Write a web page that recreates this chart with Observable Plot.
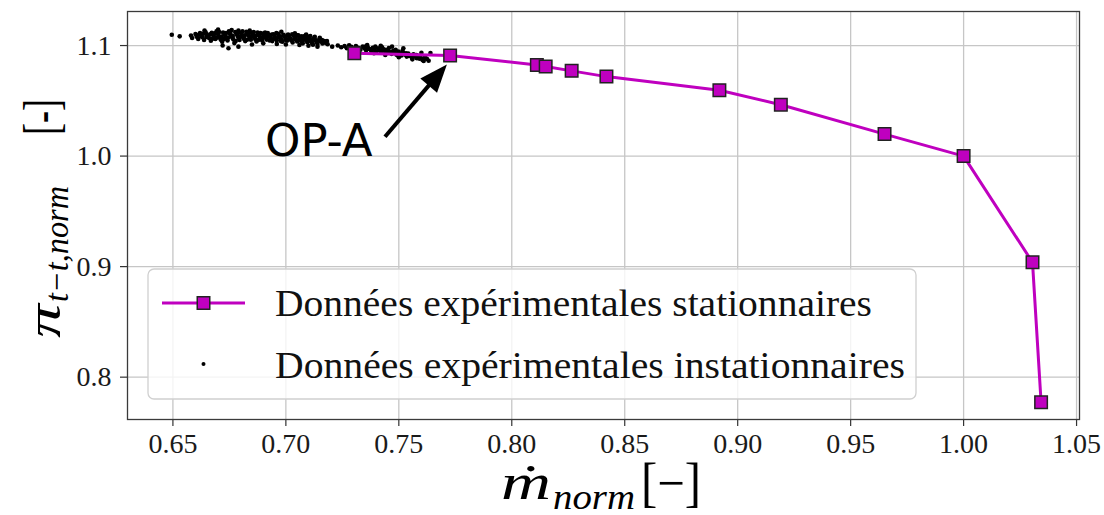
<!DOCTYPE html>
<html><head><meta charset="utf-8">
<script src="https://cdn.jsdelivr.net/npm/d3@7"></script>
<script src="https://cdn.jsdelivr.net/npm/@observablehq/plot@0.6"></script>
<style>body{margin:0;background:#fff}#chart svg{display:block}</style>
</head><body><div id="chart"></div>
<script>
const xTicks = [0.65, 0.70, 0.75, 0.80, 0.85, 0.90, 0.95, 1.00, 1.05];
const yTicks = [0.8, 0.9, 1.0, 1.1];
const steadyX = [0.7303, 0.7727, 0.8111, 0.8150, 0.8265, 0.8419, 0.8919, 0.9191, 0.9650, 1.0000, 1.0305, 1.0343];
const steadyY = [1.0931, 1.0909, 1.0825, 1.0810, 1.0771, 1.0719, 1.0596, 1.0465, 1.0199, 1.0000, 0.9039, 0.7772];
const unsteady = [
[0.6495,1.1098],[0.6530,1.1083],[0.6580,1.1090],[0.6585,1.1068],[0.6600,1.1105],[0.6605,1.1080],[0.6612,1.1060],
[0.6620,1.1112],[0.6625,1.1092],[0.6630,1.1075],[0.6638,1.1050],[0.6645,1.1120],[0.6650,1.1100],[0.6655,1.1085],
[0.6660,1.1068],[0.6668,1.1043],[0.6672,1.1115],[0.6678,1.1095],[0.6682,1.1078],[0.6688,1.1060],[0.6693,1.1128],
[0.6698,1.1108],[0.6702,1.1088],[0.6708,1.1070],[0.6712,1.1052],[0.6718,1.1035],[0.6722,1.1118],[0.6728,1.1100],
[0.6733,1.1082],[0.6738,1.1064],[0.6742,1.1046],[0.6748,1.1130],[0.6752,1.1110],[0.6757,1.1092],[0.6762,1.1074],
[0.6767,1.1056],[0.6772,1.1022],[0.6776,1.1122],[0.6781,1.1104],[0.6786,1.1086],[0.6790,1.1068],[0.6795,1.1050],
[0.6800,1.1115],[0.6805,1.1096],[0.6810,1.1078],[0.6815,1.1060],[0.6820,1.1040],[0.6825,1.1125],[0.6830,1.1106],
[0.6835,1.1088],[0.6840,1.1070],[0.6845,1.1052],[0.6850,1.1112],[0.6855,1.1094],[0.6860,1.1076],[0.6865,1.1058],
[0.6870,1.1036],[0.6875,1.1118],[0.6880,1.1100],[0.6885,1.1082],[0.6890,1.1064],[0.6895,1.1046],[0.6900,1.1108],
[0.6905,1.1090],[0.6910,1.1072],[0.6915,1.1054],[0.6920,1.1112],[0.6925,1.1094],[0.6930,1.1076],[0.6935,1.1058],
[0.6940,1.1040],[0.6945,1.1102],[0.6950,1.1084],[0.6955,1.1066],[0.6960,1.1048],[0.6965,1.1106],[0.6970,1.1088],
[0.6975,1.1070],[0.6980,1.1052],[0.6985,1.1034],[0.6990,1.1098],[0.6995,1.1080],[0.7000,1.1062],[0.7005,1.1044],
[0.7010,1.1100],[0.7015,1.1082],[0.7020,1.1064],[0.7025,1.1046],[0.7030,1.1028],[0.7035,1.1090],[0.7040,1.1072],
[0.7045,1.1054],[0.7050,1.1036],[0.7055,1.1092],[0.7060,1.1074],[0.7065,1.1056],[0.7070,1.1038],[0.7075,1.1020],
[0.7080,1.1084],[0.7085,1.1066],[0.7090,1.1048],[0.7095,1.1030],[0.7100,1.1078],[0.7105,1.1060],[0.7110,1.1042],
[0.7115,1.1024],[0.7120,1.1008],[0.7125,1.1068],[0.7130,1.1050],[0.7135,1.1032],[0.7140,1.1014],[0.7148,1.1055],
[0.7155,1.1036],[0.7162,1.1018],[0.7170,1.1040],[0.7178,1.1022],[0.7185,1.1012],
[0.6640,1.1135],[0.6700,1.1145],[0.6760,1.1140],[0.6790,1.1136],[0.6840,1.1135],[0.6720,1.1000],[0.6746,1.0976],
[0.6790,1.0990],[0.6850,1.1010],[0.6900,1.1020],[0.6960,1.1015],[0.7000,1.1010],[0.7060,1.1005],[0.7100,1.0998],
[0.7140,1.0990],[0.6980,1.1125],[0.7040,1.1110],[0.7090,1.1100],
[0.6615,1.1098],[0.6635,1.1108],[0.6648,1.1078],[0.6665,1.1102],[0.6675,1.1062],[0.6685,1.1110],[0.6695,1.1072],
[0.6705,1.1122],[0.6715,1.1082],[0.6725,1.1058],[0.6735,1.1112],[0.6745,1.1072],[0.6755,1.1124],[0.6765,1.1086],
[0.6778,1.1040],[0.6788,1.1116],[0.6798,1.1080],[0.6808,1.1128],[0.6818,1.1092],[0.6828,1.1052],[0.6838,1.1118],
[0.6848,1.1080],[0.6858,1.1122],[0.6868,1.1088],[0.6878,1.1050],[0.6888,1.1112],[0.6898,1.1074],[0.6908,1.1118],
[0.6918,1.1082],[0.6928,1.1046],[0.6938,1.1100],[0.6948,1.1062],[0.6958,1.1112],[0.6968,1.1076],[0.6978,1.1040],
[0.6988,1.1088],[0.6998,1.1052],[0.7008,1.1092],[0.7018,1.1056],[0.7028,1.1102],[0.7038,1.1062],[0.7048,1.1094],
[0.7058,1.1046],[0.7068,1.1084],[0.7078,1.1052],[0.7088,1.1092],[0.7098,1.1058],[0.7108,1.1086],[0.7118,1.1050],
[0.7128,1.1080],[0.7138,1.1044],[0.7150,1.1070],[0.7160,1.1050],[0.7172,1.1030],[0.7182,1.1040],
[0.7205,1.0990],[0.7230,1.1000],[0.7245,1.0985],[0.7260,1.0995],[0.7270,1.0975],[0.7280,1.1002],[0.7290,1.0988],
[0.7300,1.0970],[0.7310,1.0995],[0.7320,1.0980],[0.7330,1.0962],[0.7340,1.0992],[0.7348,1.0975],[0.7355,1.0958],
[0.7362,1.0985],[0.7370,1.0968],[0.7378,1.0950],[0.7385,1.0980],[0.7392,1.0962],[0.7400,1.0944],[0.7408,1.0975],
[0.7415,1.0956],[0.7422,1.0938],[0.7430,1.0968],[0.7438,1.0950],[0.7445,1.0932],[0.7452,1.0960],[0.7460,1.0942],
[0.7468,1.0925],[0.7475,1.0952],[0.7482,1.0934],[0.7490,1.0916],[0.7498,1.0945],[0.7505,1.0928],[0.7512,1.0910],
[0.7520,1.0936],[0.7528,1.0918],[0.7535,1.0900],[0.7542,1.0928],[0.7550,1.0910],[0.7558,1.0892],[0.7565,1.0920],
[0.7572,1.0902],[0.7580,1.0885],[0.7590,1.0905],[0.7598,1.0888],[0.7605,1.0870],[0.7615,1.0895],[0.7625,1.0878],
[0.7640,1.0932],[0.7632,1.0862],[0.7600,1.0935],[0.7360,1.1005],[0.7420,1.0998],[0.7470,1.0990],[0.7520,1.0975],
[0.7390,1.0930],[0.7440,1.0915],[0.7500,1.0895],[0.7560,1.0875],[0.7610,1.0860],
[0.7352,1.0990],[0.7366,1.0972],[0.7396,1.0990],[0.7412,1.0962],[0.7426,1.0985],[0.7442,1.0962],[0.7456,1.0978],
[0.7472,1.0940],[0.7486,1.0962],[0.7502,1.0920],[0.7516,1.0950],[0.7532,1.0930],[0.7546,1.0905],[0.7562,1.0900],
[0.7578,1.0915],[0.7592,1.0880],[0.7620,1.0885]
];
const legendLabels = ["Données expérimentales stationnaires", "Données expérimentales instationnaires"];
const annotText = "OP-A";
const annotTextPos = [0.6910, 1.0000];
const annotTail = [0.7441, 1.0171];
const annotTip = [0.7715, 1.0825];

const steady = steadyX.map((x, i) => ({x, y: steadyY[i]}));
const MAG = "#bf00bf";
const SERIF = "'Liberation Serif', 'DejaVu Serif', serif";

const plot = Plot.plot({
  width: 1104, height: 515,
  marginLeft: 127, marginRight: 25, marginTop: 11, marginBottom: 96,
  style: {fontFamily: SERIF, fontSize: "28px", color: "#1a1a1a", background: "#fff", overflow: "visible"},
  x: {domain: [0.6299, 1.0513]},
  y: {domain: [0.7617, 1.1308]},
  marks: [
    Plot.gridX(xTicks, {stroke: "#c6c6c6", strokeOpacity: 1, strokeWidth: 1.3}),
    Plot.gridY(yTicks, {stroke: "#c6c6c6", strokeOpacity: 1, strokeWidth: 1.3}),
    Plot.axisX(xTicks, {tickSize: 7, tickPadding: 7, tickFormat: d3.format(".2f"), label: null, fontSize: 28, stroke: "#333", strokeWidth: 1.2}),
    Plot.axisY(yTicks, {tickSize: 7, tickPadding: 9, tickFormat: d3.format(".1f"), label: null, fontSize: 28, stroke: "#333", strokeWidth: 1.2}),
    Plot.dot(unsteady, {x: d => d[0], y: d => d[1], r: 2.3, fill: "#000", stroke: "none"}),
    Plot.line(steady, {x: "x", y: "y", stroke: MAG, strokeWidth: 3}),
    Plot.dot(steady, {x: "x", y: "y", symbol: "square", r: 7.05, fill: MAG, stroke: "#222", strokeWidth: 1.5}),
    Plot.frame({stroke: "#3a3a3a", strokeWidth: 1.3})
  ]
});
document.getElementById("chart").appendChild(plot);

const sx = plot.scale("x"), sy = plot.scale("y");
const X = v => sx.apply(v), Y = v => sy.apply(v);
const svg = d3.select(plot);

// annotation
const ann = svg.append("g").attr("text-anchor", "start");
ann.append("text").attr("x", X(annotTextPos[0])).attr("y", Y(annotTextPos[1]))
  .attr("font-family", "'DejaVu Sans', sans-serif").attr("font-size", 45).attr("fill", "#000").text(annotText);
{
  const x0 = X(annotTail[0]), y0 = Y(annotTail[1]), x1 = X(annotTip[0]), y1 = Y(annotTip[1]);
  const dx = x1 - x0, dy = y1 - y0, L = Math.hypot(dx, dy), ux = dx / L, uy = dy / L;
  const hl = 28, hw = 11;
  const bx = x1 - ux * hl, by = y1 - uy * hl;
  ann.append("line").attr("x1", x0).attr("y1", y0).attr("x2", bx + ux * 2).attr("y2", by + uy * 2)
    .attr("stroke", "#000").attr("stroke-width", 4);
  ann.append("path").attr("d", `M${x1},${y1}L${bx - uy * hw},${by + ux * hw}L${bx + uy * hw},${by - ux * hw}Z`).attr("fill", "#000");
}

// legend
const lg = svg.append("g").attr("text-anchor", "start");
lg.append("rect").attr("x", 148).attr("y", 269).attr("width", 768).attr("height", 130).attr("rx", 6)
  .attr("fill", "#fff").attr("fill-opacity", 0.8).attr("stroke", "#d0d0d0").attr("stroke-width", 1.3);
lg.append("line").attr("x1", 162).attr("x2", 245).attr("y1", 303).attr("y2", 303).attr("stroke", MAG).attr("stroke-width", 3);
lg.append("rect").attr("x", 203.5 - 6.25).attr("y", 303 - 6.25).attr("width", 12.5).attr("height", 12.5)
  .attr("fill", MAG).attr("stroke", "#222").attr("stroke-width", 1.5);
lg.append("circle").attr("cx", 203.5).attr("cy", 364).attr("r", 2.0).attr("fill", "#000");
lg.append("text").attr("x", 275).attr("y", 316).attr("font-family", SERIF).attr("font-size", 38)
  .attr("textLength", 597).attr("lengthAdjust", "spacingAndGlyphs").attr("fill", "#111").text(legendLabels[0]);
lg.append("text").attr("x", 275).attr("y", 378).attr("font-family", SERIF).attr("font-size", 38)
  .attr("textLength", 630).attr("lengthAdjust", "spacingAndGlyphs").attr("fill", "#111").text(legendLabels[1]);

// x label
const xl = svg.append("g").attr("font-family", SERIF).attr("fill", "#000").attr("text-anchor", "start");
xl.append("text").attr("x", 501).attr("y", 499).attr("font-size", 50).attr("font-style", "italic")
  .attr("textLength", 50).attr("lengthAdjust", "spacingAndGlyphs").text("ṁ");
xl.append("text").attr("x", 553).attr("y", 509).attr("font-size", 36).attr("font-style", "italic")
  .attr("textLength", 82).attr("lengthAdjust", "spacingAndGlyphs").text("norm");
xl.append("text").attr("x", 641).attr("y", 501).attr("font-size", 54)
  .attr("textLength", 60).attr("lengthAdjust", "spacingAndGlyphs").text("[−]");

// y label
const yl = svg.append("g").attr("transform", "translate(60,338) rotate(-90)").attr("font-family", SERIF).attr("fill", "#000").attr("text-anchor", "start");
yl.append("text").attr("x", 0).attr("y", 0).attr("font-size", 48).attr("font-style", "italic")
  .attr("textLength", 34).attr("lengthAdjust", "spacingAndGlyphs").text("π");
yl.append("text").attr("x", 36).attr("y", 8).attr("font-size", 34).attr("font-style", "italic")
  .attr("textLength", 116).attr("lengthAdjust", "spacingAndGlyphs").text("t−t,norm");
yl.append("text").attr("x", 203).attr("y", -2).attr("font-size", 50)
  .attr("textLength", 36).attr("lengthAdjust", "spacingAndGlyphs").text("[-]");
</script>
</body></html>
